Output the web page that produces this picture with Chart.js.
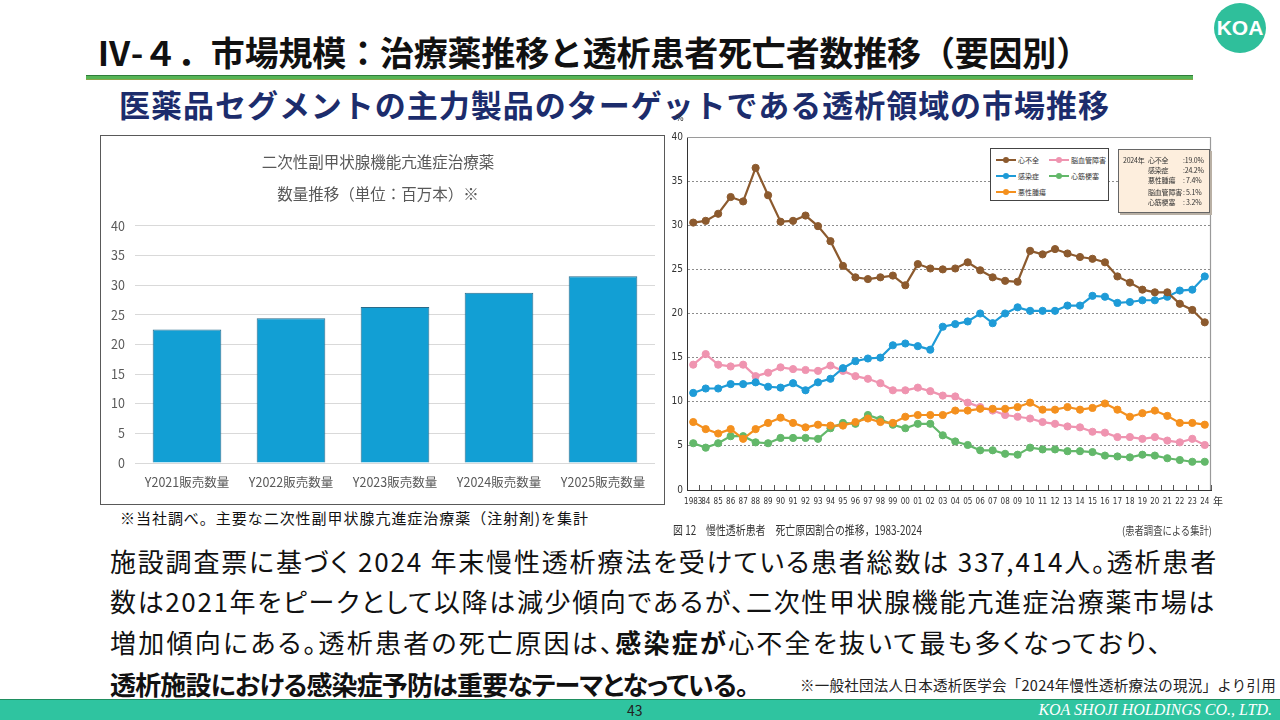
<!DOCTYPE html>
<html lang="ja">
<head>
<meta charset="utf-8">
<title>Ⅳ-4 市場規模</title>
<script src="https://cdn.jsdelivr.net/npm/chart.js@4.4.1/dist/chart.umd.min.js"></script>
<style>
html, body { margin: 0; padding: 0; background: #fff; }
body { position: relative; width: 1280px; height: 720px; overflow: hidden;
  font-family: "Noto Sans CJK JP", "Noto Sans", sans-serif; color: #111; }
.abs { position: absolute; white-space: nowrap; }
#logo { left: 1214px; top: 3px; width: 52px; height: 50px; border-radius: 50%; background: #2fbf9b;
  color: #fff; font: 700 21px "Liberation Sans", sans-serif; line-height: 50px; text-align: center; }
#title { left: 97px; top: 28px; font-size: 34px; font-weight: 700; line-height: 48px; }
#rule { left: 86px; top: 75px; width: 1107px; height: 3px; background: #56b556;
  border-top: 1px solid #2f7d3a; border-bottom: 1px solid #8aa54a; }
#subtitle { left: 119px; top: 85px; font-size: 31px; font-weight: 700; line-height: 38px; color: #1c2c6c; }
#barBox { left: 100px; top: 135px; width: 563px; height: 368px; border: 1px solid #595959; }
#barNote { left: 120px; top: 507px; font-size: 15px; line-height: 22px; }
#lineBox { left: 660px; top: 115px; width: 565px; height: 400px; }
#pct { left: 676px; top: 113px; font: 9px "DejaVu Sans Condensed", sans-serif; color: #333; }
#nen { left: 1213px; top: 493px; font-size: 10px; line-height: 16px; color: #333; }
#caption { left: 673px; top: 520px; font-size: 12.5px; line-height: 20px; color: #333; transform-origin: left center; }
#source { left: 1122px; top: 521px; font-size: 11px; line-height: 18px; color: #444; transform-origin: left center; }
#legend { left: 990px; top: 148px; width: 112px; height: 48px; border: 1px solid #444; background: #fff;
  padding: 3px 0 0 5px; display: grid; grid-auto-flow: column; grid-template-rows: repeat(3, 16px);
  grid-template-columns: 53px 53px; font-size: 7px; color: #333; z-index: 2; }
.item { display: flex; align-items: center; gap: 2px; }
.sym { position: relative; width: 20px; height: 8px; flex: none; }
.sym::before { content: ''; position: absolute; left: 0; right: 0; top: 3px; height: 2px; background: var(--c); }
.sym::after { content: ''; position: absolute; left: 7px; top: 1px; width: 6px; height: 6px; border-radius: 50%; background: var(--c); }
#info { left: 1118px; top: 149px; width: 86px; height: 57px; background: #fdeedd; border: 1px solid #666;
  box-shadow: 2px 2px 0 #b9b0a4; font-size: 7px; line-height: 10px; letter-spacing: -0.2px; color: #333; z-index: 2;
  display: grid; grid-template-columns: 25px 35px 25px; align-content: start; padding: 5px 0 0 4px; white-space: pre; }
#info .gap { margin-top: 2px; }
.body { left: 110px; font-size: 26px; line-height: 36px; color: #111; font-feature-settings: "palt"; }
#footNote { left: 800px; top: 675px; font-size: 14.5px; line-height: 20px; color: #222; }
#footer { left: 0; top: 699px; width: 1280px; height: 21px; background: #2fc4a0; border-top: 1px solid #1f8f60; }
#page { left: 627px; top: 700px; font-size: 14px; line-height: 20px; color: #222; }
#company { right: 8px; top: 700px; font: italic 16px "Liberation Serif", serif; line-height: 20px; color: #fff; }
</style>
</head>
<body>
<div id="logo" class="abs">KOA</div>
<div id="title" class="abs" data-right="1090">Ⅳ-４．市場規模：治療薬推移と透析患者死亡者数推移（要因別）</div>
<div id="rule" class="abs"></div>
<div id="subtitle" class="abs" data-right="1110">医薬品セグメントの主力製品のターゲットである透析領域の市場推移</div>

<div id="barBox" class="abs"><canvas id="barChart"></canvas></div>
<div id="barNote" class="abs" data-right="589">※当社調べ。主要な二次性副甲状腺亢進症治療薬（注射剤)を集計</div>

<div id="lineBox" class="abs"><canvas id="lineChart"></canvas></div>
<div id="pct" class="abs">%</div>
<div id="nen" class="abs">年</div>
<div id="legend" class="abs"></div>
<div id="info" class="abs"></div>
<div id="caption" class="abs" data-right="922" data-fit="scale">図 12　慢性透析患者　死亡原因割合の推移，1983-2024</div>
<div id="source" class="abs" data-right="1212" data-fit="scale">(患者調査による集計)</div>

<div class="abs body" style="top:543px" data-right="1218">施設調査票に基づく 2024 年末慢性透析療法を受けている患者総数は 337,414人。透析患者</div>
<div class="abs body" style="top:583px" data-right="1216">数は2021年をピークとして以降は減少傾向であるが、二次性甲状腺機能亢進症治療薬市場は</div>
<div class="abs body" style="top:624px" data-right="1163">増加傾向にある。透析患者の死亡原因は、<b>感染症が</b>心不全を抜いて最も多くなっており、</div>
<div class="abs body" style="top:666px;font-weight:700" data-right="748">透析施設における感染症予防は重要なテーマとなっている。</div>
<div id="footNote" class="abs" data-right="1276">※一般社団法人日本透析医学会「2024年慢性透析療法の現況」より引用</div>

<div id="footer" class="abs"></div>
<div id="page" class="abs">43</div>
<div id="company" class="abs">KOA SHOJI HOLDINGS CO., LTD.</div>

<script>
// 左: 二次性副甲状腺機能亢進症治療薬 数量推移（百万本）
const barTitle = ['二次性副甲状腺機能亢進症治療薬', '数量推移（単位：百万本）※'];
const barLabels = ['Y2021販売数量', 'Y2022販売数量', 'Y2023販売数量', 'Y2024販売数量', 'Y2025販売数量'];
const barValues = [22.5, 24.4, 26.3, 28.7, 31.5];

// 右: 死亡原因割合の推移（%）1983-2024
const yearLabels = ['1983', '84', '85', '86', '87', '88', '89', '90', '91', '92', '93', '94', '95', '96',
  '97', '98', '99', '00', '01', '02', '03', '04', '05', '06', '07', '08', '09', '10', '11', '12', '13',
  '14', '15', '16', '17', '18', '19', '20', '21', '22', '23', '24'];
const heartFailure = [30.3, 30.5, 31.3, 33.2, 32.7, 36.5, 33.4, 30.4, 30.5, 31.1, 29.9, 28.2, 25.4, 24.1,
  23.9, 24.1, 24.3, 23.2, 25.6, 25.1, 25.0, 25.1, 25.8, 24.9, 24.1, 23.7, 23.6, 27.1, 26.7, 27.3, 26.8,
  26.4, 26.2, 25.8, 24.2, 23.5, 22.7, 22.4, 22.4, 21.1, 20.4, 19.0];
const infection = [11.0, 11.5, 11.5, 12.0, 12.0, 12.2, 11.7, 11.6, 12.1, 11.3, 12.2, 12.6, 13.8, 14.6,
  14.9, 15.0, 16.4, 16.6, 16.3, 15.9, 18.5, 18.8, 19.1, 20.0, 18.9, 20.0, 20.7, 20.3, 20.3, 20.3, 20.9,
  20.9, 22.0, 21.9, 21.2, 21.3, 21.5, 21.5, 21.9, 22.6, 22.7, 24.2];
const malignancy = [7.7, 6.9, 6.4, 6.9, 5.8, 6.9, 7.6, 8.2, 7.6, 7.1, 7.4, 7.3, 7.3, 7.7,
  8.1, 7.7, 7.6, 8.3, 8.5, 8.5, 8.5, 9.0, 9.0, 9.2, 9.2, 9.2, 9.4, 9.9, 9.1, 9.1, 9.4,
  9.1, 9.3, 9.8, 9.1, 8.3, 8.7, 9.0, 8.4, 7.6, 7.6, 7.4];
const cerebrovascular = [14.2, 15.4, 14.2, 14.0, 14.2, 12.9, 13.3, 13.9, 13.7, 13.6, 13.5, 14.1, 13.5, 12.9,
  12.6, 12.1, 11.3, 11.3, 11.6, 11.2, 10.7, 10.6, 9.9, 9.4, 9.0, 8.5, 8.3, 8.1, 7.7, 7.5, 7.2,
  7.1, 6.6, 6.5, 6.0, 6.0, 5.8, 6.0, 5.6, 5.4, 5.8, 5.1];
const myocardial = [5.3, 4.8, 5.3, 6.1, 6.1, 5.4, 5.3, 5.9, 5.9, 5.9, 5.8, 7.0, 7.6, 7.5,
  8.5, 8.0, 7.4, 7.0, 7.5, 7.5, 6.2, 5.5, 5.1, 4.5, 4.5, 4.1, 4.0, 4.8, 4.6, 4.6, 4.4,
  4.4, 4.3, 3.9, 3.8, 3.7, 4.0, 3.9, 3.6, 3.4, 3.2, 3.2];

const series = [
  { name: '心不全', data: heartFailure, color: '#8c5a2e' },
  { name: '感染症', data: infection, color: '#1e9bd7' },
  { name: '悪性腫瘍', data: malignancy, color: '#f4901e' },
  { name: '脳血管障害', data: cerebrovascular, color: '#ef94b0' },
  { name: '心筋梗塞', data: myocardial, color: '#63b86a' }
];

Chart.defaults.font.family = "'Noto Sans CJK JP', 'Noto Sans', sans-serif";
Chart.defaults.animation = false;

new Chart(document.getElementById('barChart'), {
  type: 'bar',
  data: {
    labels: barLabels,
    datasets: [{
      data: barValues,
      backgroundColor: '#129fd4',
      borderColor: '#2a6b8a',
      borderWidth: 1,
      categoryPercentage: 1,
      barPercentage: 0.66
    }]
  },
  options: {
    responsive: true,
    maintainAspectRatio: false,
    layout: { padding: { left: 0, right: 9, top: 0, bottom: 0 } },
    plugins: {
      legend: { display: false },
      tooltip: { enabled: false },
      title: {
        display: true,
        text: barTitle,
        color: '#595959',
        font: { size: 15.5, weight: 'normal', lineHeight: 2.06 },
        padding: { top: 10, bottom: 16 }
      }
    },
    scales: {
      x: {
        grid: { display: false, drawTicks: false },
        border: { display: false },
        ticks: { color: '#595959', font: { size: 12.5 }, padding: 12 },
        afterFit: s => { s.height = 41; }
      },
      y: {
        min: 0,
        max: 40,
        ticks: { stepSize: 5, color: '#595959', font: { size: 12.5 }, padding: 10 },
        grid: { color: '#d9d9d9', drawTicks: false },
        border: { display: false },
        afterFit: s => { s.width = 34; }
      }
    }
  }
});

// 上と右の枠線
const framePlugin = {
  id: 'frame',
  beforeDatasetsDraw(chart) {
    const { ctx, chartArea: a } = chart;
    ctx.save();
    ctx.strokeStyle = '#9a9a9a';
    ctx.lineWidth = 1.2;
    ctx.beginPath();
    ctx.moveTo(a.left, a.top + 0.5);
    ctx.lineTo(a.right - 0.5, a.top + 0.5);
    ctx.lineTo(a.right - 0.5, a.bottom);
    ctx.stroke();
    ctx.restore();
  }
};

const condensed = "'DejaVu Sans Condensed', 'Liberation Sans Narrow', sans-serif";

new Chart(document.getElementById('lineChart'), {
  type: 'line',
  data: {
    labels: yearLabels,
    datasets: series.map(s => ({
      label: s.name,
      data: s.data,
      borderColor: s.color,
      backgroundColor: s.color,
      pointBackgroundColor: s.color,
      pointBorderColor: s.color,
      borderWidth: 2.2,
      pointRadius: 3.6,
      pointBorderWidth: 1,
      tension: 0
    }))
  },
  options: {
    responsive: true,
    maintainAspectRatio: false,
    layout: { padding: { left: 0, right: 14, top: 22, bottom: 0 } },
    plugins: { legend: { display: false }, tooltip: { enabled: false } },
    scales: {
      x: {
        offset: true,
        // 目盛り線はグラフ内側に向ける
        grid: { drawOnChartArea: false, offset: true, tickLength: -5, color: '#555' },
        border: { color: '#333', width: 1 },
        ticks: {
          autoSkip: false, maxRotation: 0, minRotation: 0, color: '#333',
          font: { family: condensed, size: 8 }, padding: 12
        },
        afterFit: s => { s.height = 25; }
      },
      y: {
        min: 0,
        max: 40,
        ticks: { stepSize: 5, color: '#333', font: { family: condensed, size: 10 }, padding: 4 },
        grid: { color: '#8c8c8c', drawTicks: false },
        border: { color: '#333', dash: [2, 2] },
        afterFit: s => { s.width = 27; }
      }
    }
  },
  plugins: [framePlugin]
});

// 凡例
const legend = document.getElementById('legend');
series.forEach(s => {
  const item = document.createElement('div');
  item.className = 'item';
  item.innerHTML = `<span class="sym" style="--c:${s.color}"></span><span>${s.name}</span>`;
  legend.appendChild(item);
});

// 2024年の値
const info = document.getElementById('info');
series.forEach((s, i) => {
  const v = s.data[s.data.length - 1].toFixed(1).padStart(4, ' ');
  const cls = i === 3 ? ' class="gap"' : '';
  info.innerHTML += `<span${cls}>${i === 0 ? '2024年' : ''}</span><span${cls}>${s.name}</span><span${cls}>:${v}%</span>`;
});

// 文字幅を元の配置に合わせる（長体の文字は横方向に縮める）
document.querySelectorAll('[data-right]').forEach(el => {
  const n = [...el.textContent].length;
  const r = el.getBoundingClientRect();
  const target = parseFloat(el.dataset.right) - r.left;
  if (el.dataset.fit === 'scale') {
    el.style.transform = `scaleX(${target / r.width})`;
  } else {
    el.style.letterSpacing = ((target - r.width) / n) + 'px';
  }
});
</script>
</body>
</html>
